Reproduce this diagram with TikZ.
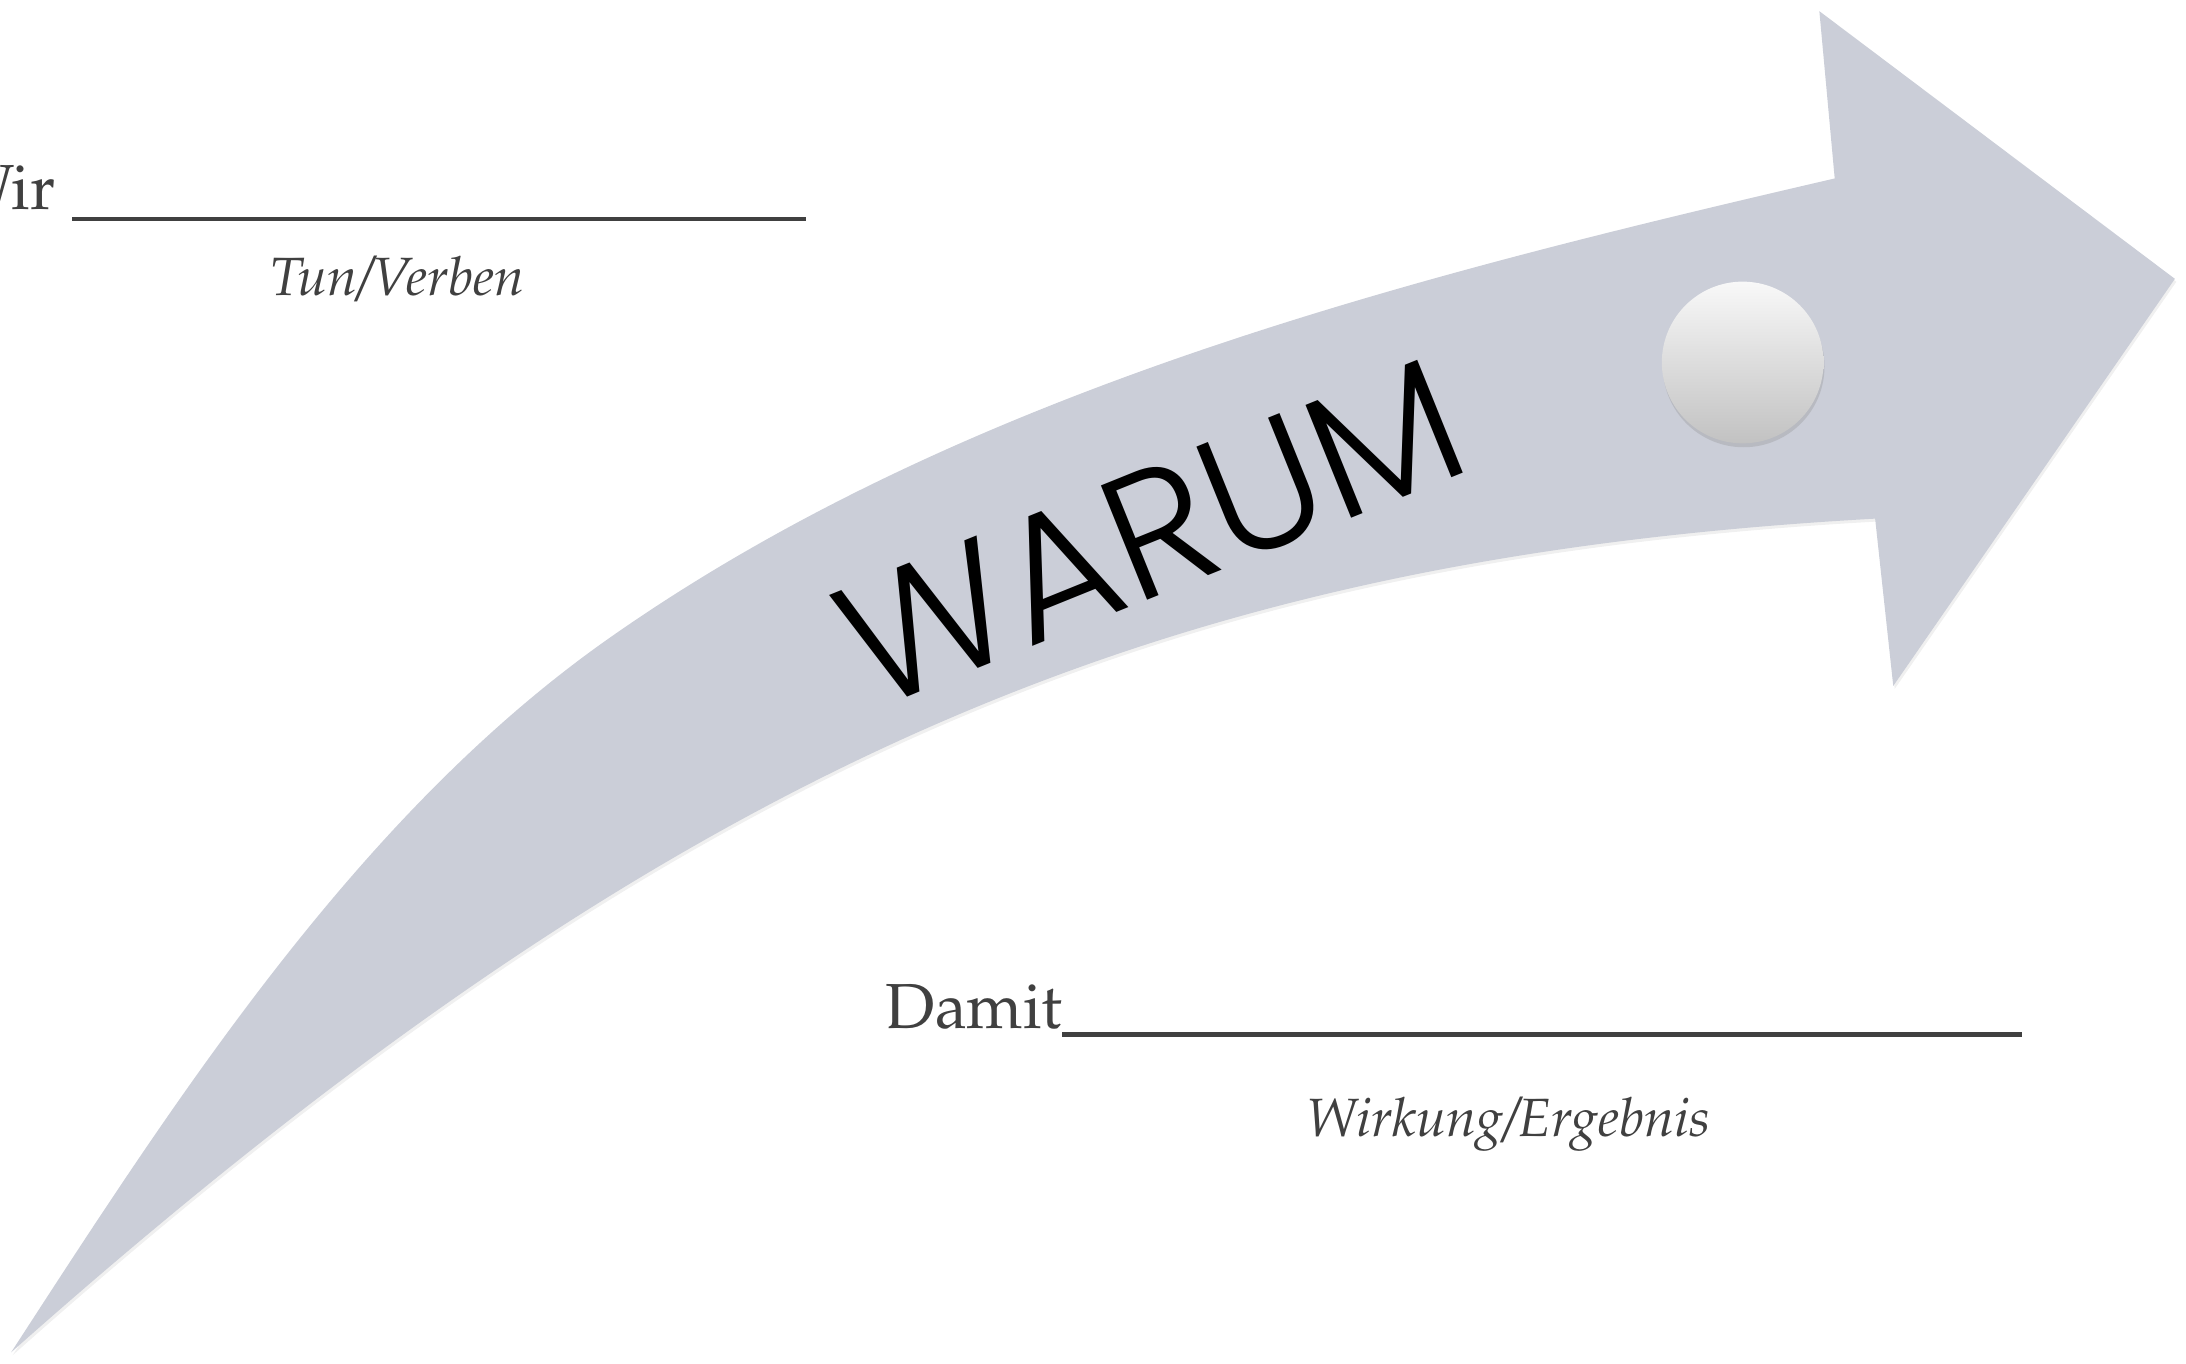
\documentclass[tikz,border=0pt]{standalone}
\usepackage{fontspec}
\usepackage[T1]{fontenc}
\usepackage{mathpazo}
\newfontfamily\warumfont{Poppins Light}
\usetikzlibrary{positioning,shadows}
\definecolor{arrowgray}{HTML}{CBCED8}
\definecolor{textgray}{HTML}{404040}
\definecolor{knobtop}{HTML}{F8F8F8}
\definecolor{knobbottom}{HTML}{C2C2C2}

\begin{document}
\begin{tikzpicture}[
    x=0.02cm, y=-0.02cm,
    bigarrow/.style={fill=arrowgray,drop shadow={opacity=0.12,shadow xshift=0.6pt,shadow yshift=-1.2pt}},
    knob/.style={circle,minimum size=2.32cm,inner sep=0pt,top color=knobtop,bottom color=knobbottom,drop shadow={opacity=0.25,shadow xshift=0.4pt,shadow yshift=-1.6pt}},
    lead/.style={font=\fontsize{26}{30}\selectfont,color=textgray,inner sep=0pt},
    hint/.style={font=\fontsize{22}{26}\selectfont\itshape,color=textgray,inner sep=0pt},
    blank/.style={draw=textgray,line width=1.7pt},
    why/.style={font=\warumfont\fontsize{72}{80}\selectfont,rotate=22,inner sep=0pt}
]
\useasboundingbox (0,0) rectangle (1568,978);

% the curved arrow
\draw[bigarrow,draw=none] (8,970) .. controls (128,785) and (258,583) .. (438,457)
    .. controls (692,279) and (1014,198) .. (1316,128)
    -- (1305,8) -- (1560,200) -- (1358,492) -- (1345,372)
    .. controls (845,400) and (494,538) .. cycle;

\node[why,anchor=base] (warum) at (842,423) {WARUM};
\node[knob] (knob) at (1250,260) {};

% upper line
\node[lead,anchor=base east] (wir) at (40,150) {Wir};
\coordinate (wirstart) at (52,157);
\coordinate (wirend) at (578,157);
\draw[blank] (wirstart) -- (wirend);
\node[hint,anchor=base] (tun) at (285,212) {Tun/Verben};

% lower line
\node[lead,anchor=base west] (damit) at (635,738) {Damit};
\coordinate (damitstart) at (762,742);
\coordinate (damitend) at (1450,742);
\draw[blank] (damitstart) -- (damitend);
\node[hint,anchor=base] (wirkung) at (1082,815) {Wirkung/Ergebnis};

\end{tikzpicture}
\end{document}
